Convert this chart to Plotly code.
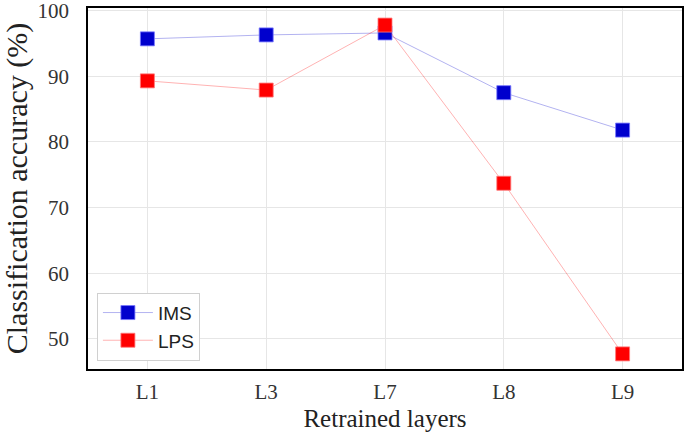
import plotly.graph_objects as go

layers = ["L1", "L3", "L7", "L8", "L9"]
ims = [95.7, 96.3, 96.6, 87.5, 81.8]
lps = [89.3, 87.9, 97.8, 73.7, 47.7]
y_ticks = [50, 60, 70, 80, 90, 100]

fig = go.Figure()
fig.add_trace(go.Scatter(
    x=layers, y=ims, name="IMS", mode="lines+markers",
    line=dict(color="rgba(0,0,205,0.3)", width=1),
    marker=dict(symbol="square", size=14, color="#0000CD",
                line=dict(color="rgba(120,120,255,0.8)", width=1)),
))
fig.add_trace(go.Scatter(
    x=layers, y=lps, name="LPS", mode="lines+markers",
    line=dict(color="rgba(255,0,0,0.3)", width=1),
    marker=dict(symbol="square", size=14, color="#FF0000",
                line=dict(color="rgba(255,120,120,0.8)", width=1)),
))

fig.update_layout(
    width=685, height=441,
    margin=dict(l=88, r=3, t=8, b=72),
    paper_bgcolor="white", plot_bgcolor="white",
    font=dict(family="Liberation Serif", color="#222"),
    showlegend=True,
    legend=dict(
        x=0.015, y=0.023, xanchor="left", yanchor="bottom",
        bgcolor="white", bordercolor="#d0d0d0", borderwidth=1,
        font=dict(family="Liberation Sans", size=19, color="#222"),
        itemwidth=50, tracegroupgap=0,
        entrywidth=100, entrywidthmode="pixels",
    ),
    xaxis=dict(
        range=[-0.5, 4.5], showgrid=True, gridcolor="#e6e6e6", gridwidth=1,
        showline=True, linecolor="black", linewidth=1.5, mirror=True,
        ticks="", tickfont=dict(size=21, color="#333"), ticklabelstandoff=3,
        ticklabeloverflow="allow",
        title=dict(text="Retrained layers", font=dict(size=25), standoff=7),
        zeroline=False, automargin=False,
    ),
    yaxis=dict(
        range=[45.4, 100.4], tickvals=y_ticks, ticktext=[str(v) for v in y_ticks],
        showgrid=True, gridcolor="#e6e6e6", gridwidth=1,
        showline=True, linecolor="black", linewidth=1.5, mirror=True,
        ticks="", tickfont=dict(size=21, color="#333"), ticklabelstandoff=13,
        ticklabeloverflow="allow",
        title=dict(text="Classification accuracy (%)", font=dict(size=30), standoff=6),
        zeroline=False, automargin=False,
    ),
)

fig.write_html(
    "out.html",
    config={"displayModeBar": False},
    post_script="document.body.style.margin='0';document.body.style.overflow='hidden';",
)
